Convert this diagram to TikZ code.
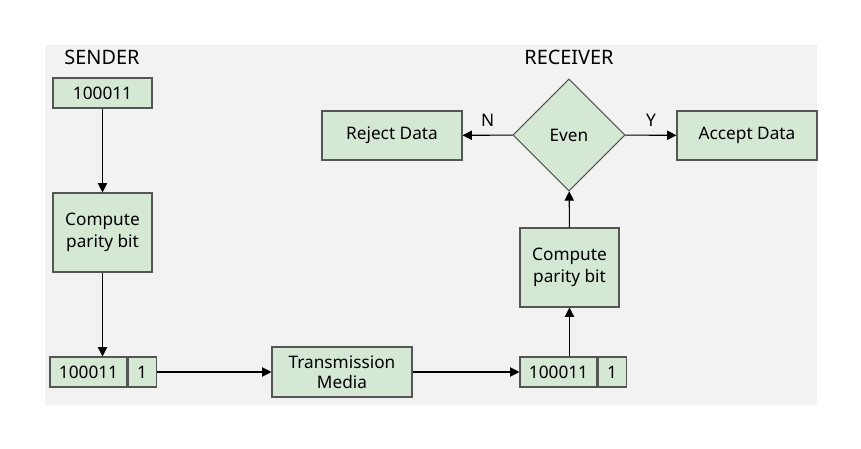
\documentclass[tikz,border=0pt]{standalone}
\usepackage{fontspec}
\setmainfont{Noto Sans}
\usetikzlibrary{shapes.geometric,arrows.meta}
\definecolor{boxgreen}{HTML}{D5E8D4}
\definecolor{boxline}{HTML}{555555}
\definecolor{bggray}{HTML}{F2F2F2}

\begin{document}
\begin{tikzpicture}[x=0.0265cm,y=-0.0265cm]

    \tikzstyle{box}=[draw=boxline,fill=boxgreen,thick,inner sep=1pt,align=center,font=\fontsize{13}{17}\selectfont]
    \tikzstyle{head}=[font=\fontsize{15}{18}\selectfont\bfseries]
    \tikzstyle{flow}=[-{Triangle[length=7pt,width=7pt]},thick]

    \useasboundingbox (0,0) rectangle (861,449);
    \fill[bggray] (45,45) rectangle (817,405);

    % sender
    \node (sender) [head] at (102,57) {SENDER};
    \node (data_s) [box,minimum width={99*0.0265cm},minimum height={30*0.0265cm}] at (102.5,93) {100011};
    \node (comp_s) [box,minimum width={99*0.0265cm},minimum height={79*0.0265cm}] at (102.5,232.5) {Compute\\parity bit};
    \node (pkt_s) [box,minimum width={77*0.0265cm},minimum height={30*0.0265cm}] at (88.5,372) {100011};
    \node (bit_s) [box,minimum width={28*0.0265cm},minimum height={30*0.0265cm},anchor=west] at (pkt_s.east) {1};

    % channel
    \node (media) [box,minimum width={140*0.0265cm},minimum height={50*0.0265cm},font=\fontsize{13}{15}\selectfont] at (342,372) {Transmission\\Media};

    % receiver
    \node (receiver) [head] at (569,57) {RECEIVER};
    \node (pkt_r) [box,minimum width={77*0.0265cm},minimum height={30*0.0265cm}] at (558.5,372) {100011};
    \node (bit_r) [box,minimum width={28*0.0265cm},minimum height={30*0.0265cm},anchor=west] at (pkt_r.east) {1};
    \node (comp_r) [box,minimum width={99*0.0265cm},minimum height={79*0.0265cm}] at (569.5,267.5) {Compute\\parity bit};
    \node (even) [box,diamond,minimum width={112*0.0265cm},minimum height={112*0.0265cm},inner sep=0pt] at (569,135) {Even};
    \node (reject) [box,minimum width={140*0.0265cm},minimum height={49*0.0265cm}] at (392,135.5) {Reject Data};
    \node (accept) [box,minimum width={140*0.0265cm},minimum height={49*0.0265cm}] at (747,135.5) {Accept Data};

    \draw [flow] (data_s) -- (comp_s);
    \draw [flow] (comp_s) -- (comp_s |- pkt_s.north);
    \draw [flow] (bit_s) -- (media);
    \draw [flow] (media) -- (pkt_r);
    \draw [flow] (pkt_r.north -| comp_r) -- (comp_r);
    \draw [flow] (comp_r) -- (even);
    \draw [flow] (even) -- node[above=3pt,font=\fontsize{13}{15}\selectfont] {N} (reject);
    \draw [flow] (even) -- node[above=3pt,font=\fontsize{13}{15}\selectfont] {Y} (accept);

\end{tikzpicture}
\end{document}
